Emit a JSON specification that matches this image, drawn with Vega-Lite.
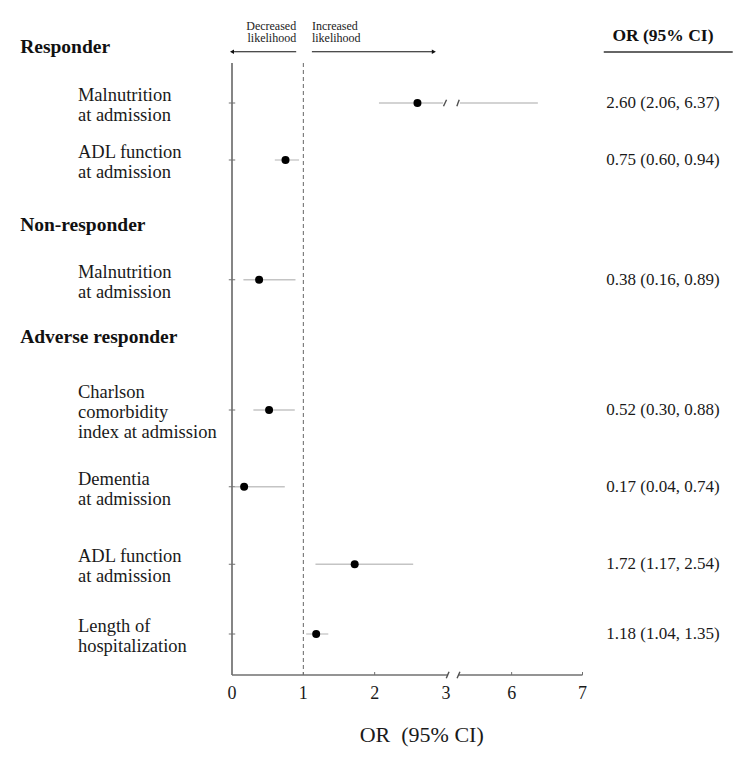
{
  "$schema": "https://vega.github.io/schema/vega-lite/v6.json",
  "width": 745,
  "height": 675,
  "autosize": "none",
  "padding": {"left": 0, "top": 0, "right": 0, "bottom": 85},
  "background": "white",
  "config": {"view": {"stroke": null}, "font": "Liberation Serif"},
  "datasets": {
    "rows": [
      {"group": "Responder", "label": "Malnutrition\nat admission", "lines": 2, "or": 2.60, "lo": 2.06, "hi": 6.37, "ci": "2.60 (2.06, 6.37)", "pos": 4.12},
      {"group": "Responder", "label": "ADL function\nat admission", "lines": 2, "or": 0.75, "lo": 0.60, "hi": 0.94, "ci": "0.75 (0.60, 0.94)", "pos": 6.4},
      {"group": "Non-responder", "label": "Malnutrition\nat admission", "lines": 2, "or": 0.38, "lo": 0.16, "hi": 0.89, "ci": "0.38 (0.16, 0.89)", "pos": 11.19},
      {"group": "Adverse responder", "label": "Charlson\ncomorbidity\nindex at admission", "lines": 3, "or": 0.52, "lo": 0.30, "hi": 0.88, "ci": "0.52 (0.30, 0.88)", "pos": 16.4},
      {"group": "Adverse responder", "label": "Dementia\nat admission", "lines": 2, "or": 0.17, "lo": 0.04, "hi": 0.74, "ci": "0.17 (0.04, 0.74)", "pos": 19.47},
      {"group": "Adverse responder", "label": "ADL function\nat admission", "lines": 2, "or": 1.72, "lo": 1.17, "hi": 2.54, "ci": "1.72 (1.17, 2.54)", "pos": 22.57},
      {"group": "Adverse responder", "label": "Length of\nhospitalization", "lines": 2, "or": 1.18, "lo": 1.04, "hi": 1.35, "ci": "1.18 (1.04, 1.35)", "pos": 25.36}
    ],
    "segments": [
      {"pos": 4.12, "from": 2.06, "to": 2.96},
      {"pos": 4.12, "from": 5.27, "to": 6.37},
      {"pos": 6.4, "from": 0.60, "to": 0.94},
      {"pos": 11.19, "from": 0.16, "to": 0.89},
      {"pos": 16.4, "from": 0.30, "to": 0.88},
      {"pos": 19.47, "from": 0.04, "to": 0.74},
      {"pos": 22.57, "from": 1.17, "to": 2.54},
      {"pos": 25.36, "from": 1.04, "to": 1.35}
    ],
    "breaks": [
      {"x": 2.965, "x2": 3.1, "y": 4.25, "y2": 3.99},
      {"x": 4.95, "x2": 5.26, "y": 4.25, "y2": 3.99},
      {"x": 3.05, "x2": 3.55, "y": 27.13, "y2": 26.87},
      {"x": 5.0, "x2": 5.27, "y": 27.13, "y2": 26.87}
    ],
    "ticklabels": [
      {"x": 0, "t": "0"}, {"x": 1, "t": "1"}, {"x": 2, "t": "2"},
      {"x": 3, "t": "3"}, {"x": 6, "t": "6"}, {"x": 7, "t": "7"}
    ],
    "headers": [
      {"text": "Responder", "pos": 1.87},
      {"text": "Non-responder", "pos": 9.0},
      {"text": "Adverse responder", "pos": 13.48}
    ],
    "arrowtext": [
      {"text": "Decreased", "x": 0.9, "y": 1.02, "side": "left"},
      {"text": "likelihood", "x": 0.9, "y": 1.52, "side": "left"},
      {"text": "Increased", "x": 1.12, "y": 1.02, "side": "right"},
      {"text": "likelihood", "x": 1.12, "y": 1.52, "side": "right"}
    ]
  },
  "layer": [
    {
      "data": {"values": [{"x": 0, "y": 2.52, "y2": 27}]},
      "mark": {"type": "rule", "color": "#707070", "strokeWidth": 1.7},
      "encoding": {
        "x": {"field": "x", "type": "quantitative", "scale": {"domain": [0, 3, 5.25, 7], "range": [232, 446, 458.5, 582.5], "nice": false, "zero": false}, "axis": null},
        "y": {"field": "y", "type": "quantitative", "scale": {"domain": [0, 27], "range": [0, 675], "nice": false, "zero": false}, "axis": null},
        "y2": {"field": "y2"}
      }
    },
    {
      "data": {"values": [{"x": 1, "y": 2.52, "y2": 27}]},
      "mark": {"type": "rule", "color": "#666666", "strokeWidth": 1, "strokeDash": [4, 3]},
      "encoding": {
        "x": {"field": "x", "type": "quantitative", "scale": {"domain": [0, 3, 5.25, 7], "range": [232, 446, 458.5, 582.5], "nice": false, "zero": false}, "axis": null},
        "y": {"field": "y", "type": "quantitative", "scale": {"domain": [0, 27], "range": [0, 675], "nice": false, "zero": false}, "axis": null},
        "y2": {"field": "y2"}
      }
    },
    {
      "data": {"values": [{"x": 0, "x2": 3.3, "y": 27}, {"x": 5.24, "x2": 7, "y": 27}]},
      "mark": {"type": "rule", "color": "#707070", "strokeWidth": 1.7},
      "encoding": {
        "x": {"field": "x", "type": "quantitative", "scale": {"domain": [0, 3, 5.25, 7], "range": [232, 446, 458.5, 582.5], "nice": false, "zero": false}, "axis": null},
        "x2": {"field": "x2"},
        "y": {"field": "y", "type": "quantitative", "scale": {"domain": [0, 27], "range": [0, 675], "nice": false, "zero": false}, "axis": null}
      }
    },
    {
      "data": {"values": [{"x": 1}, {"x": 2}, {"x": 6}, {"x": 7}]},
      "mark": {"type": "rule", "color": "#707070", "strokeWidth": 1},
      "encoding": {
        "x": {"field": "x", "type": "quantitative", "scale": {"domain": [0, 3, 5.25, 7], "range": [232, 446, 458.5, 582.5], "nice": false, "zero": false}, "axis": null},
        "y": {"datum": 26.88, "type": "quantitative", "scale": {"domain": [0, 27], "range": [0, 675], "nice": false, "zero": false}, "axis": null},
        "y2": {"datum": 27}
      }
    },
    {
      "data": {"name": "breaks"},
      "mark": {"type": "rule", "color": "#505050", "strokeWidth": 1.4},
      "encoding": {
        "x": {"field": "x", "type": "quantitative", "scale": {"domain": [0, 3, 5.25, 7], "range": [232, 446, 458.5, 582.5], "nice": false, "zero": false}, "axis": null},
        "x2": {"field": "x2"},
        "y": {"field": "y", "type": "quantitative", "scale": {"domain": [0, 27], "range": [0, 675], "nice": false, "zero": false}, "axis": null},
        "y2": {"field": "y2"}
      }
    },
    {
      "data": {"name": "ticklabels"},
      "mark": {"type": "text", "align": "center", "baseline": "middle", "fontSize": 18, "color": "#1a1a1a", "font": "Liberation Serif"},
      "encoding": {
        "x": {"field": "x", "type": "quantitative", "scale": {"domain": [0, 3, 5.25, 7], "range": [232, 446, 458.5, 582.5], "nice": false, "zero": false}, "axis": null},
        "y": {"datum": 27.76, "type": "quantitative", "scale": {"domain": [0, 27], "range": [0, 675], "nice": false, "zero": false}, "axis": null},
        "text": {"field": "t"}
      }
    },
    {
      "data": {"name": "rows"},
      "mark": {"type": "rule", "color": "#707070", "strokeWidth": 1},
      "encoding": {
        "x": {"datum": -0.045, "type": "quantitative", "scale": {"domain": [0, 3, 5.25, 7], "range": [232, 446, 458.5, 582.5], "nice": false, "zero": false}, "axis": null},
        "x2": {"datum": 0.045},
        "y": {"field": "pos", "type": "quantitative", "scale": {"domain": [0, 27], "range": [0, 675], "nice": false, "zero": false}, "axis": null}
      }
    },
    {
      "data": {"name": "segments"},
      "mark": {"type": "rule", "color": "#c4c4c4", "strokeWidth": 1.3},
      "encoding": {
        "x": {"field": "from", "type": "quantitative", "scale": {"domain": [0, 3, 5.25, 7], "range": [232, 446, 458.5, 582.5], "nice": false, "zero": false}, "axis": null},
        "x2": {"field": "to"},
        "y": {"field": "pos", "type": "quantitative", "scale": {"domain": [0, 27], "range": [0, 675], "nice": false, "zero": false}, "axis": null}
      }
    },
    {
      "data": {"name": "rows"},
      "mark": {"type": "point", "filled": true, "shape": "circle", "size": 64, "color": "#000000", "opacity": 1},
      "encoding": {
        "x": {"field": "or", "type": "quantitative", "scale": {"domain": [0, 3, 5.25, 7], "range": [232, 446, 458.5, 582.5], "nice": false, "zero": false}, "axis": null},
        "y": {"field": "pos", "type": "quantitative", "scale": {"domain": [0, 27], "range": [0, 675], "nice": false, "zero": false}, "axis": null}
      }
    },
    {
      "data": {"name": "rows"},
      "mark": {"type": "text", "align": "center", "baseline": "middle", "fontSize": 17, "color": "#1a1a1a", "font": "Liberation Serif"},
      "encoding": {
        "x": {"datum": 8.135, "type": "quantitative", "scale": {"domain": [0, 3, 5.25, 7], "range": [232, 446, 458.5, 582.5], "nice": false, "zero": false}, "axis": null},
        "y": {"field": "pos", "type": "quantitative", "scale": {"domain": [0, 27], "range": [0, 675], "nice": false, "zero": false}, "axis": null},
        "text": {"field": "ci"}
      }
    },
    {
      "data": {"name": "rows"},
      "transform": [{"filter": "datum.lines == 2"}],
      "mark": {"type": "text", "align": "left", "baseline": "middle", "fontSize": 18.5, "lineHeight": 20, "lineBreak": "\n", "dy": -8, "color": "#1a1a1a", "font": "Liberation Serif"},
      "encoding": {
        "x": {"datum": -2.16, "type": "quantitative", "scale": {"domain": [0, 3, 5.25, 7], "range": [232, 446, 458.5, 582.5], "nice": false, "zero": false}, "axis": null},
        "y": {"field": "pos", "type": "quantitative", "scale": {"domain": [0, 27], "range": [0, 675], "nice": false, "zero": false}, "axis": null},
        "text": {"field": "label"}
      }
    },
    {
      "data": {"name": "rows"},
      "transform": [{"filter": "datum.lines == 3"}],
      "mark": {"type": "text", "align": "left", "baseline": "middle", "fontSize": 18.5, "lineHeight": 20, "lineBreak": "\n", "dy": -18, "color": "#1a1a1a", "font": "Liberation Serif"},
      "encoding": {
        "x": {"datum": -2.16, "type": "quantitative", "scale": {"domain": [0, 3, 5.25, 7], "range": [232, 446, 458.5, 582.5], "nice": false, "zero": false}, "axis": null},
        "y": {"field": "pos", "type": "quantitative", "scale": {"domain": [0, 27], "range": [0, 675], "nice": false, "zero": false}, "axis": null},
        "text": {"field": "label"}
      }
    },
    {
      "data": {"name": "headers"},
      "mark": {"type": "text", "align": "left", "baseline": "middle", "fontSize": 19.5, "fontWeight": "bold", "color": "#111111", "font": "Liberation Serif"},
      "encoding": {
        "x": {"datum": -2.97, "type": "quantitative", "scale": {"domain": [0, 3, 5.25, 7], "range": [232, 446, 458.5, 582.5], "nice": false, "zero": false}, "axis": null},
        "y": {"field": "pos", "type": "quantitative", "scale": {"domain": [0, 27], "range": [0, 675], "nice": false, "zero": false}, "axis": null},
        "text": {"field": "text"}
      }
    },
    {
      "data": {"values": [{"text": "OR (95% CI)", "x": 8.135, "y": 1.44}]},
      "mark": {"type": "text", "align": "center", "baseline": "middle", "fontSize": 17.5, "fontWeight": "bold", "color": "#111111", "font": "Liberation Serif"},
      "encoding": {
        "x": {"field": "x", "type": "quantitative", "scale": {"domain": [0, 3, 5.25, 7], "range": [232, 446, 458.5, 582.5], "nice": false, "zero": false}, "axis": null},
        "y": {"field": "y", "type": "quantitative", "scale": {"domain": [0, 27], "range": [0, 675], "nice": false, "zero": false}, "axis": null},
        "text": {"field": "text"}
      }
    },
    {
      "data": {"values": [{"x": 7.30, "x2": 9.12, "y": 2.08}]},
      "mark": {"type": "rule", "color": "#333333", "strokeWidth": 1.3},
      "encoding": {
        "x": {"field": "x", "type": "quantitative", "scale": {"domain": [0, 3, 5.25, 7], "range": [232, 446, 458.5, 582.5], "nice": false, "zero": false}, "axis": null},
        "x2": {"field": "x2"},
        "y": {"field": "y", "type": "quantitative", "scale": {"domain": [0, 27], "range": [0, 675], "nice": false, "zero": false}, "axis": null}
      }
    },
    {
      "data": {"values": [{"x": 0.9, "x2": 0.0, "y": 2.07}, {"x": 1.12, "x2": 2.83, "y": 2.07}]},
      "mark": {"type": "rule", "color": "#111111", "strokeWidth": 1},
      "encoding": {
        "x": {"field": "x", "type": "quantitative", "scale": {"domain": [0, 3, 5.25, 7], "range": [232, 446, 458.5, 582.5], "nice": false, "zero": false}, "axis": null},
        "x2": {"field": "x2"},
        "y": {"field": "y", "type": "quantitative", "scale": {"domain": [0, 27], "range": [0, 675], "nice": false, "zero": false}, "axis": null}
      }
    },
    {
      "data": {"values": [{"x": 0.0, "y": 2.07, "shape": "triangle-left"}, {"x": 2.83, "y": 2.07, "shape": "triangle-right"}]},
      "mark": {"type": "point", "filled": true, "size": 22, "color": "#111111", "opacity": 1},
      "encoding": {
        "x": {"field": "x", "type": "quantitative", "scale": {"domain": [0, 3, 5.25, 7], "range": [232, 446, 458.5, 582.5], "nice": false, "zero": false}, "axis": null},
        "y": {"field": "y", "type": "quantitative", "scale": {"domain": [0, 27], "range": [0, 675], "nice": false, "zero": false}, "axis": null},
        "shape": {"field": "shape", "type": "nominal", "scale": null}
      }
    },
    {
      "data": {"name": "arrowtext"},
      "transform": [{"filter": "datum.side == 'left'"}],
      "mark": {"type": "text", "align": "right", "baseline": "middle", "fontSize": 12, "color": "#222222", "font": "Liberation Serif"},
      "encoding": {
        "x": {"field": "x", "type": "quantitative", "scale": {"domain": [0, 3, 5.25, 7], "range": [232, 446, 458.5, 582.5], "nice": false, "zero": false}, "axis": null},
        "y": {"field": "y", "type": "quantitative", "scale": {"domain": [0, 27], "range": [0, 675], "nice": false, "zero": false}, "axis": null},
        "text": {"field": "text"}
      }
    },
    {
      "data": {"name": "arrowtext"},
      "transform": [{"filter": "datum.side == 'right'"}],
      "mark": {"type": "text", "align": "left", "baseline": "middle", "fontSize": 12, "color": "#222222", "font": "Liberation Serif"},
      "encoding": {
        "x": {"field": "x", "type": "quantitative", "scale": {"domain": [0, 3, 5.25, 7], "range": [232, 446, 458.5, 582.5], "nice": false, "zero": false}, "axis": null},
        "y": {"field": "y", "type": "quantitative", "scale": {"domain": [0, 27], "range": [0, 675], "nice": false, "zero": false}, "axis": null},
        "text": {"field": "text"}
      }
    },
    {
      "data": {"values": [{"text": "OR\u00a0\u00a0(95% CI)", "x": 2.66, "y": 29.4}]},
      "mark": {"type": "text", "align": "center", "baseline": "middle", "fontSize": 22, "color": "#1a1a1a", "font": "Liberation Serif"},
      "encoding": {
        "x": {"field": "x", "type": "quantitative", "scale": {"domain": [0, 3, 5.25, 7], "range": [232, 446, 458.5, 582.5], "nice": false, "zero": false}, "axis": null},
        "y": {"field": "y", "type": "quantitative", "scale": {"domain": [0, 27], "range": [0, 675], "nice": false, "zero": false}, "axis": null},
        "text": {"field": "text"}
      }
    }
  ]
}
